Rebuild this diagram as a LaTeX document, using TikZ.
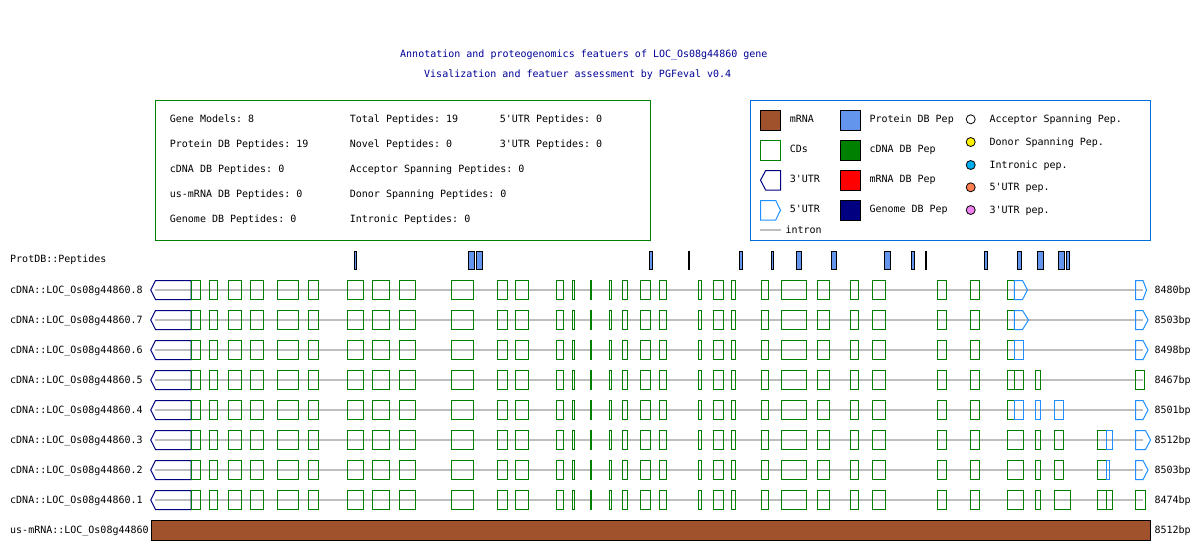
\documentclass[tikz,border=0pt]{standalone}
\usepackage{fontspec}
\setmonofont{DejaVu Sans Mono}
\usepackage{tikz}
\usetikzlibrary{positioning}

\definecolor{siena}{RGB}{160,82,45}
\definecolor{azulpep}{RGB}{100,149,237}
\definecolor{verdecds}{RGB}{0,128,0}
\definecolor{azulutr}{RGB}{30,144,255}
\definecolor{marino}{RGB}{0,0,128}
\definecolor{gris}{RGB}{190,190,190}
\definecolor{titulo}{RGB}{0,0,150}
\definecolor{bordeley}{RGB}{0,110,220}
\definecolor{coral}{RGB}{255,127,80}
\definecolor{violeta}{RGB}{238,130,238}

% exones: \exon{y}{x1}{x2}
\newcommand{\exon}[3]{\draw[cds] (#2,#1-9.5) rectangle (#3,#1+9.5);}
\newcommand{\exonutr}[3]{\draw[utrcinco] (#2,#1-9.5) rectangle (#3,#1+9.5);}
% 5'UTR con punta: \flechautr{y}{x1}{x2}{punta}
\newcommand{\flechautr}[4]{\draw[utrcinco] (#2,#1-9.5) -- (#3,#1-9.5) -- (#4,#1) -- (#3,#1+9.5) -- (#2,#1+9.5) -- cycle;}

\begin{document}
\begin{tikzpicture}[x=1pt,y=-1pt,
    texto/.style={font=\ttfamily\fontsize{10}{12}\selectfont, anchor=west, inner sep=0pt, text height=7pt, text depth=0pt},
    cds/.style={draw=verdecds, line width=1pt},
    utrcinco/.style={draw=azulutr, line width=1pt},
    utrtres/.style={draw=marino, line width=1pt},
    intron/.style={draw=gris, line width=2pt},
    pep/.style={draw=black, fill=azulpep, line width=1pt},
    bolita/.style={draw=black, line width=0.8pt}]
            \useasboundingbox (0,0) rectangle (1200,550);

            % Titulo
            \node[texto, text=titulo] (tit1) at (400,54) {Annotation and proteogenomics featuers of LOC\_Os08g44860 gene};
            \node[texto, text=titulo] (tit2) at (424,74) {Visalization and featuer assessment by PGFeval v0.4};

            % Cuadro de resumen
            \draw[draw=verdecds, line width=1pt] (155.5,100.5) rectangle (650,240);
            \node[texto] (gm) at (169.7,119.3) {Gene Models: 8};
            \node[texto] (pdb) at (169.7,144.3) {Protein DB Peptides: 19};
            \node[texto] (cdb) at (169.7,169.2) {cDNA DB Peptides: 0};
            \node[texto] (udb) at (169.7,194.2) {us-mRNA DB Peptides: 0};
            \node[texto] (gdb) at (169.7,219.2) {Genome DB Peptides: 0};
            \node[texto] (tp) at (349.7,119.3) {Total Peptides: 19};
            \node[texto] (np) at (349.7,144.3) {Novel Peptides: 0};
            \node[texto] (asp) at (349.7,169.2) {Acceptor Spanning Peptides: 0};
            \node[texto] (dsp) at (349.7,194.2) {Donor Spanning Peptides: 0};
            \node[texto] (ip) at (349.7,219.2) {Intronic Peptides: 0};
            \node[texto] (cinco) at (499.7,119.3) {5'UTR Peptides: 0};
            \node[texto] (tres) at (499.7,144.3) {3'UTR Peptides: 0};

            % Leyenda
            \draw[draw=bordeley, line width=1pt] (750.5,100.5) rectangle (1150.5,240.5);
            \draw[draw=black, fill=siena, line width=1pt] (760.5,110.5) rectangle (780.5,130);
            \draw[cds] (760.5,140.5) rectangle (780.5,160);
            \draw[utrtres] (780.5,170.5) -- (765.7,170.5) -- (760.5,180.2) -- (765.7,190) -- (780.5,190) -- cycle;
            \draw[utrcinco] (760.5,200.5) -- (775.7,200.5) -- (780.5,210.2) -- (775.7,220) -- (760.5,220) -- cycle;
            \draw[intron] (760,229.7) -- (780.7,229.7);
            \node[texto] (lmrna) at (789.7,119.3) {mRNA};
            \node[texto] (lcds) at (789.7,149) {CDs};
            \node[texto] (ltres) at (789.7,179) {3'UTR};
            \node[texto] (lcinco) at (789.7,209) {5'UTR};
            \node[texto] (lintron) at (785.3,229.7) {intron};

            \draw[draw=black, fill=azulpep, line width=1pt] (840.7,110.5) rectangle (860.5,130);
            \draw[draw=black, fill=verdecds, line width=1pt] (840.7,140.5) rectangle (860.5,160);
            \draw[draw=black, fill=red, line width=1pt] (840.7,170.5) rectangle (860.5,190);
            \draw[draw=black, fill=marino, line width=1pt] (840.7,200.5) rectangle (860.5,220);
            \node[texto] (lprot) at (869.3,119.3) {Protein DB Pep};
            \node[texto] (lcdna) at (869.3,149) {cDNA DB Pep};
            \node[texto] (lmdb) at (869.3,179) {mRNA DB Pep};
            \node[texto] (lgen) at (869.3,209) {Genome DB Pep};

            \draw[bolita, fill=white] (970.7,119.3) circle (4.5);
            \draw[bolita, fill=yellow] (970.7,142) circle (4.5);
            \draw[bolita, fill=cyan] (970.7,165) circle (4.5);
            \draw[bolita, fill=coral] (970.7,187.3) circle (4.5);
            \draw[bolita, fill=violeta] (970.7,210) circle (4.5);
            \node[texto] (lacc) at (989.3,119.3) {Acceptor Spanning Pep.};
            \node[texto] (ldon) at (989.3,142) {Donor Spanning Pep.};
            \node[texto] (lint) at (989.3,165) {Intronic pep.};
            \node[texto] (l5p) at (989.3,187.3) {5'UTR pep.};
            \node[texto] (l3p) at (989.3,210) {3'UTR pep.};

            % Peptidos
            \node[texto] (prot) at (10,258.5) {ProtDB::Peptides};
            \foreach \xa/\xb in {354.2/356.8, 468.8/474.2, 476.5/482.8, 649.8/652.8, 688.8/689.8,
                739.8/742.2, 771.8/773.8, 796.8/801.2, 831.8/836.8, 884.8/890.8, 911.8/914.2,
                925.8/926.8, 984.2/987.8, 1017.2/1021.8, 1037.8/1043.8, 1058.8/1064.5, 1066.5/1069.8}
                \draw[pep] (\xa,251.2) rectangle (\xb,269.8);

            % Modelos cDNA (parte comun)
            \foreach \fila/\yy/\bp in {8/290/8480, 7/320/8503, 6/350/8498, 5/380/8467,
                4/410/8501, 3/440/8512, 2/470/8503, 1/500/8474}{
                \node[texto] (lbl\fila) at (10,\yy) {cDNA::LOC\_Os08g44860.\fila};
                \node[texto] (bp\fila) at (1154.3,\yy) {\bp bp};
                \draw[intron] (155,\yy) -- (1143,\yy);
                \draw[utrtres] (191,\yy-9.5) -- (155.5,\yy-9.5) -- (150.7,\yy) -- (155.5,\yy+9.5) -- (191,\yy+9.5) -- cycle;
                \foreach \xa/\xb in {191/200.5, 209.5/217.5, 228.5/241.5, 250.5/263.5, 277.5/298,
                    308.5/318, 347/363, 372.5/389, 399/415, 451.5/473, 497.5/507, 515.5/528,
                    556.5/563.5, 572.5/574.5, 609.5/611.5, 622.5/627.5, 640.5/650, 659.5/666.5,
                    698.5/701.5, 713.5/723, 731.5/735.5, 761.5/768.5, 781.5/806.5, 817.5/829,
                    850.5/858.5, 872.5/885, 937.5/946, 970.5/979.5}
                    \exon{\yy}{\xa}{\xb}
                \draw[cds, fill=verdecds] (590.3,\yy-9.5) rectangle (591.7,\yy+9.5);
            }

            % Extremo derecho de cada modelo
            % .8
            \exon{290}{1007.5}{1014.3}
            \flechautr{290}{1014.3}{1022.5}{1027.5}
            \flechautr{290}{1135.5}{1143}{1146.5}
            % .7
            \exon{320}{1007.5}{1014.3}
            \flechautr{320}{1014.3}{1022.5}{1028.5}
            \flechautr{320}{1135.5}{1143}{1148}
            % .6
            \exon{350}{1007.5}{1014.3}
            \exonutr{350}{1014.3}{1023}
            \flechautr{350}{1135.5}{1143}{1148}
            % .5
            \exon{380}{1007.5}{1014.3}
            \exon{380}{1014.3}{1023}
            \exon{380}{1035.5}{1040.5}
            \exon{380}{1135.5}{1144}
            % .4
            \exon{410}{1007.5}{1014.3}
            \exonutr{410}{1014.3}{1023}
            \exonutr{410}{1035.5}{1040.5}
            \exonutr{410}{1054.5}{1063}
            \flechautr{410}{1135.5}{1143}{1148}
            % .3
            \exon{440}{1007.5}{1023}
            \exon{440}{1035.5}{1040.5}
            \exon{440}{1054.5}{1063}
            \exon{440}{1097.5}{1106}
            \exonutr{440}{1106}{1112}
            \flechautr{440}{1135.5}{1145.5}{1150.5}
            % .2
            \exon{470}{1007.5}{1023}
            \exon{470}{1035.5}{1040.5}
            \exon{470}{1054.5}{1063}
            \exon{470}{1097.5}{1106}
            \exonutr{470}{1106}{1109}
            \flechautr{470}{1135.5}{1143}{1148}
            % .1
            \exon{500}{1007.5}{1023}
            \exon{500}{1035.5}{1040.5}
            \exon{500}{1054.5}{1070}
            \exon{500}{1097.5}{1106}
            \exon{500}{1106}{1112}
            \exon{500}{1135.5}{1145}

            % mRNA
            \node[texto] (lmr) at (10,530) {us-mRNA::LOC\_Os08g44860};
            \draw[draw=black, fill=siena, line width=1pt] (151,520.5) rectangle (1150,540);
            \node[texto] (bpmr) at (1154.3,530) {8512bp};
        \end{tikzpicture}
\end{document}
